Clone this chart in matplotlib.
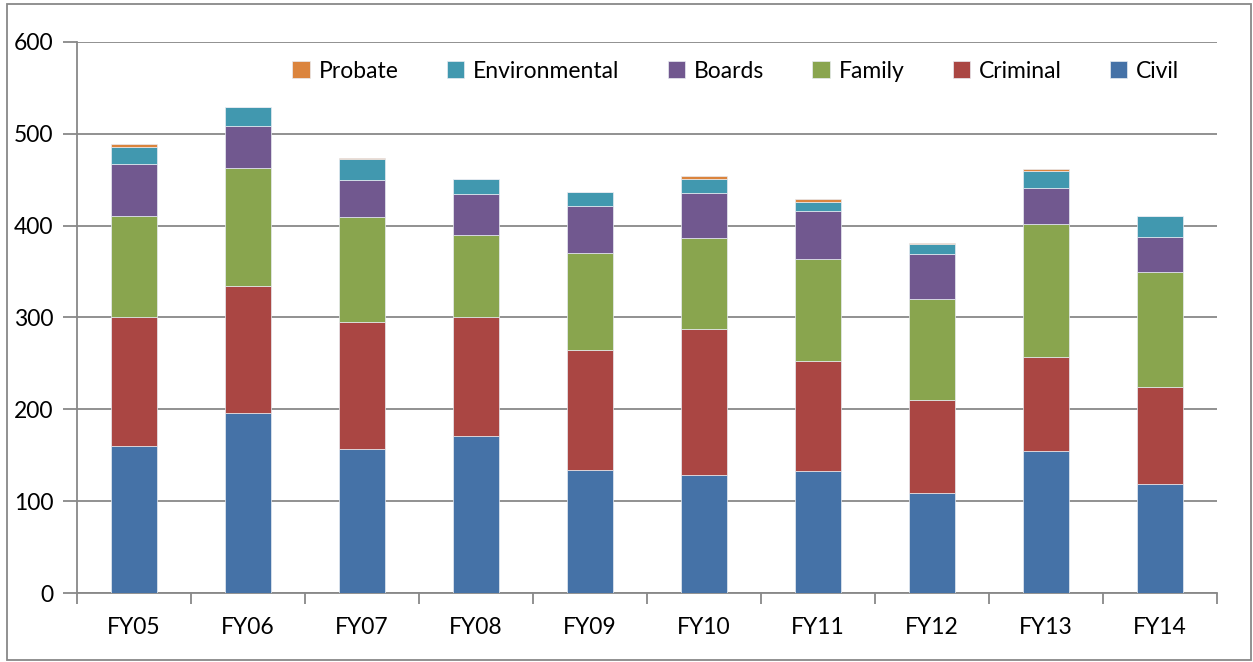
import numpy as np
import matplotlib.pyplot as plt
from matplotlib.patches import Rectangle

plt.rcParams['font.family'] = ['Lato', 'DejaVu Sans']

years = ["FY05", "FY06", "FY07", "FY08", "FY09", "FY10", "FY11", "FY12", "FY13", "FY14"]
civil = [160, 196, 157, 171, 134, 129, 133, 109, 155, 119]
criminal = [140, 138, 138, 130, 131, 158, 120, 101, 102, 105]
family = [110, 129, 114, 89, 105, 100, 111, 110, 145, 126]
boards = [57, 46, 41, 44, 51, 49, 52, 49, 39, 38]
environmental = [19, 20, 23, 17, 16, 15, 10, 11, 19, 23]
probate = [3, 0, 1, 0, 0, 3, 3, 1, 2, 0]

series = [
    ("Civil", civil, "#4572A7"),
    ("Criminal", criminal, "#AA4643"),
    ("Family", family, "#89A54E"),
    ("Boards", boards, "#71588F"),
    ("Environmental", environmental, "#4198AF"),
    ("Probate", probate, "#DB843D"),
]

fig = plt.figure(figsize=(12.53, 6.62), dpi=100)
ax = fig.add_axes([0.0615, 0.1042, 0.9098, 0.8324])

x = np.arange(len(years))
bottom = np.zeros(len(years))
handles = []
for name, vals, color in series:
    b = ax.bar(x, vals, width=0.4, bottom=bottom, color=color, label=name,
               edgecolor="#e8ecf2", linewidth=0.5, zorder=3)
    handles.append(b)
    bottom += np.array(vals)

ax.set_xlim(-0.5, len(years) - 0.5)
ax.set_ylim(0, 600)
ax.set_yticks(range(0, 601, 100))
ax.yaxis.grid(True, color="#888888", linewidth=1.3, zorder=0)
ax.set_axisbelow(True)

for s in ("top", "right"):
    ax.spines[s].set_visible(False)
for s in ("left", "bottom"):
    ax.spines[s].set_color("#888888")
    ax.spines[s].set_linewidth(1.3)

# category boundaries get the tick marks, names sit between them
ax.set_xticks(np.arange(-0.5, len(years), 1.0))
ax.set_xticklabels([])
ax.set_xticks(x, minor=True)
ax.set_xticklabels(years, minor=True)
ax.tick_params(axis="x", which="major", length=8, width=1.3, color="#888888", direction="out")
ax.tick_params(axis="x", which="minor", length=0, pad=17, labelsize=16.5)
ax.tick_params(axis="y", length=10, width=1.3, color="#888888", direction="out",
               pad=7, labelsize=16.5)

ax.legend(handles[::-1], [h.get_label() for h in handles[::-1]], ncol=6,
          loc="center right", bbox_to_anchor=(0.967, 0.947), frameon=False,
          fontsize=16.5, handlelength=0.75, handleheight=0.75, handletextpad=0.4,
          columnspacing=2.1, borderaxespad=0, borderpad=0)

fig.patches.append(Rectangle((0.0056, 0.003), 0.9925, 0.991, transform=fig.transFigure,
                             fill=False, edgecolor="#888888", linewidth=1.3))

fig.savefig("out.png", dpi=100)
